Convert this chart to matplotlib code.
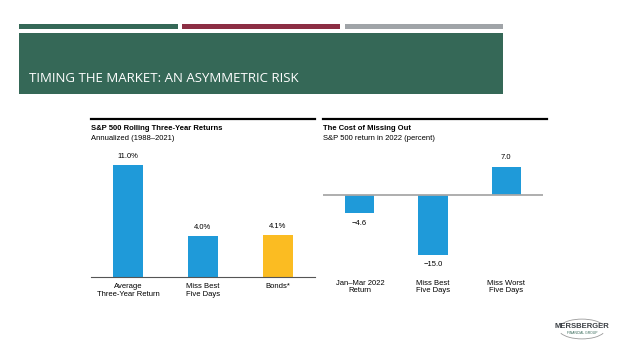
import matplotlib
matplotlib.use("Agg")
import matplotlib.pyplot as plt
from matplotlib.patches import Rectangle, Arc
from matplotlib import font_manager

W, H = 640, 360

# Data
left_title = "S&P 500 Rolling Three-Year Returns"
left_sub = "Annualized (1988\u20132021)"
left_cats = ["Average\nThree-Year Return", "Miss Best\nFive Days", "Bonds*"]
left_vals = [11.0, 4.0, 4.1]
left_labels = ["11.0%", "4.0%", "4.1%"]

right_title = "The Cost of Missing Out"
right_sub = "S&P 500 return in 2022 (percent)"
right_cats = ["Jan\u2013Mar 2022\nReturn", "Miss Best\nFive Days", "Miss Worst\nFive Days"]
right_vals = [-4.6, -15.0, 7.0]
right_labels = ["\u22124.6", "\u221215.0", "7.0"]

slide_title = "TIMING THE MARKET: AN ASYMMETRIC RISK"

BLUE = "#1f9ad9"
YELLOW = "#fbbc22"
GREEN = "#356857"
RED = "#8c2e44"
GRAY = "#a0a4a8"

names = {f.name for f in font_manager.fontManager.ttflist}
TITLE_FONT = "Liberation Sans Narrow" if "Liberation Sans Narrow" in names else "Open Sans"
TITLE_SIZE = 12.0 if TITLE_FONT == "Liberation Sans Narrow" else 9.5

fig = plt.figure(figsize=(W / 100, H / 100), dpi=100)
fig.patch.set_facecolor("white")

def fx(px):
    return px / W

def fy(py):
    return 1 - py / H

def rect(x0, y0, x1, y1, color):
    fig.patches.append(Rectangle((fx(x0), fy(y1)), fx(x1) - fx(x0), fy(y0) - fy(y1),
                                 transform=fig.transFigure, color=color, lw=0, zorder=0))

# Top stripes and banner
rect(19, 24, 178, 29, GREEN)
rect(182, 24, 340, 29, RED)
rect(345, 24, 503, 29, GRAY)
rect(19, 33, 503, 94, GREEN)
fig.text(fx(29), fy(78), slide_title, color="white", fontsize=TITLE_SIZE,
         family=TITLE_FONT, va="center", ha="left")

def add_axes(x0, y0, x1, y1):
    return fig.add_axes([fx(x0), fy(y1), fx(x1) - fx(x0), fy(y0) - fy(y1)])

SANS = "Liberation Sans"
FS = 5.5

# Left chart
fig.lines.append(plt.Line2D([fx(91), fx(315)], [fy(119.5), fy(119.5)],
                            transform=fig.transFigure, color="black", lw=1.6))
fig.text(fx(91), fy(128), left_title, fontsize=FS, weight="bold", family=SANS, va="center")
fig.text(fx(91), fy(138), left_sub, fontsize=FS, family=SANS, va="center")

axL = add_axes(91, 150, 315, 277)
xs = list(range(len(left_vals)))
colors = [BLUE, BLUE, YELLOW]
axL.bar(xs, left_vals, width=0.4, color=colors, zorder=2)
axL.set_xlim(-0.5, 2.5)
axL.set_ylim(0, 12.45)
for x, v, lab in zip(xs, left_vals, left_labels):
    axL.annotate(lab, (x, v), xytext=(0, 3.5), textcoords="offset points",
                 ha="center", va="bottom", fontsize=FS, family=SANS)
axL.set_xticks(xs)
axL.set_xticklabels(left_cats, fontsize=FS, family=SANS, linespacing=1.1)
axL.tick_params(axis="x", length=0, pad=4.5)
axL.set_yticks([])
for s in ["top", "left", "right"]:
    axL.spines[s].set_visible(False)
axL.spines["bottom"].set_color("#555555")
axL.spines["bottom"].set_linewidth(0.8)
axL.patch.set_alpha(0)

# Right chart
fig.lines.append(plt.Line2D([fx(323), fx(547)], [fy(119.5), fy(119.5)],
                            transform=fig.transFigure, color="black", lw=1.6))
fig.text(fx(323), fy(128), right_title, fontsize=FS, weight="bold", family=SANS, va="center")
fig.text(fx(323), fy(138), right_sub, fontsize=FS, family=SANS, va="center")

axR = add_axes(323, 150, 543, 260)
xs = list(range(len(right_vals)))
axR.bar(xs, right_vals, width=0.4, color=BLUE, zorder=2)
axR.axhline(0, color="#a8a8a8", lw=1.3, zorder=3)
axR.set_xlim(-0.5, 2.5)
axR.set_ylim(-16.25, 11.25)
for x, v, lab in zip(xs, right_vals, right_labels):
    if v >= 0:
        axR.annotate(lab, (x, v), xytext=(0, 4), textcoords="offset points",
                     ha="center", va="bottom", fontsize=FS, family=SANS)
    else:
        axR.annotate(lab, (x, v), xytext=(0, -4.5), textcoords="offset points",
                     ha="center", va="top", fontsize=FS, family=SANS)
axR.set_xticks([])
axR.set_yticks([])
for s in axR.spines.values():
    s.set_visible(False)
axR.patch.set_alpha(0)
for x, lab in zip(xs, right_cats):
    fig.text(fx(360 + 73 * x), fy(280), lab, ha="center", va="top",
             fontsize=FS, family=SANS, linespacing=1.1)

# Logo
fig.text(fx(582), fy(327), "MERSBERGER", ha="center", va="center",
         fontsize=5.5, weight="bold", family=SANS, color="#3a3f44")
fig.text(fx(582), fy(333), "FINANCIAL GROUP", ha="center", va="center",
         fontsize=2.4, family=SANS, color="#356857")
logo_ax = fig.add_axes([fx(556), fy(340), fx(608) - fx(556), fy(318) - fy(340)])
logo_ax.set_xlim(0, 1)
logo_ax.set_ylim(0, 1)
logo_ax.axis("off")
logo_ax.add_patch(Arc((0.5, 0.5), 0.9, 0.9, theta1=25, theta2=155, color="#999999", lw=0.6))
logo_ax.add_patch(Arc((0.5, 0.5), 0.9, 0.9, theta1=205, theta2=335, color="#999999", lw=0.6))

fig.savefig("out.png", dpi=100, facecolor="white")
